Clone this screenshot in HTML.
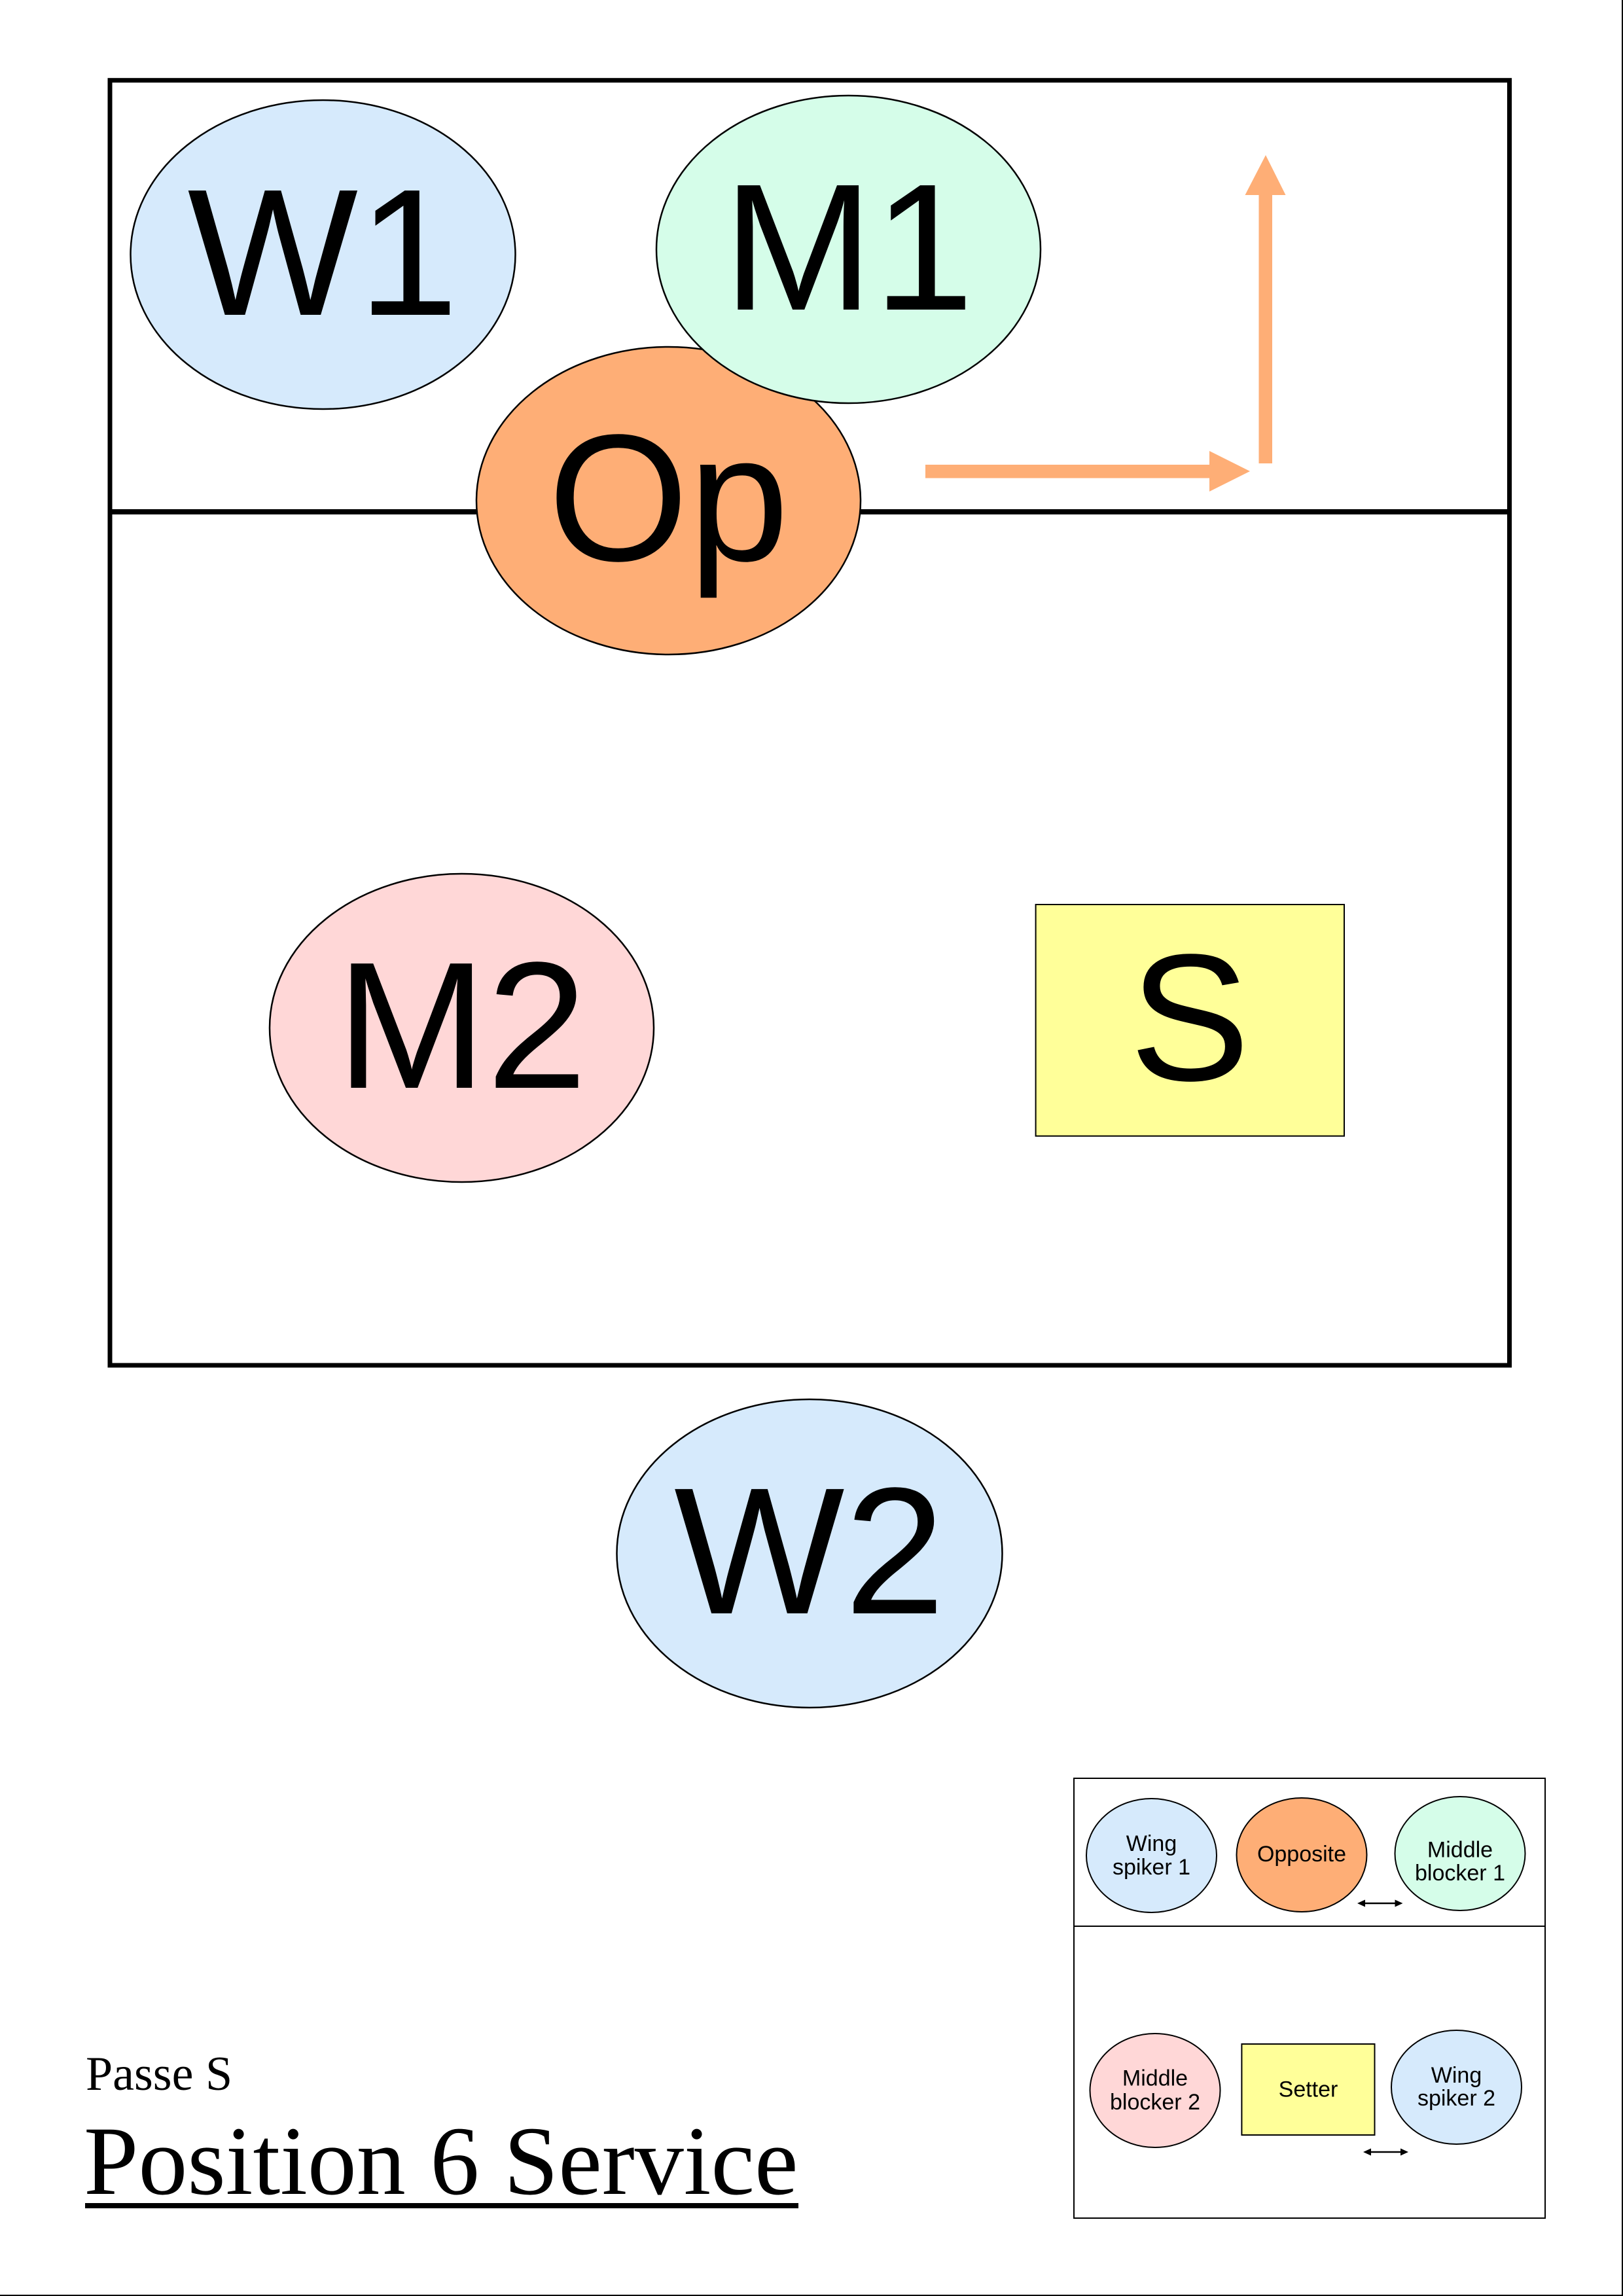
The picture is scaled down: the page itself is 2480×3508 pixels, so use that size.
<!DOCTYPE html>
<html>
<head>
<meta charset="utf-8">
<style>
  html, body { margin: 0; padding: 0; background: #ffffff; }
  svg { display: block; }
</style>
</head>
<body>
<svg xmlns="http://www.w3.org/2000/svg" width="2480" height="3508" viewBox="0 0 2480 3508">
  <rect x="0" y="0" width="2480" height="3508" fill="#ffffff"/>
  <!-- page edge lines -->
  <rect x="2478" y="0" width="2" height="3508" fill="#000"/>
  <rect x="0" y="3506" width="2480" height="2" fill="#000"/>

  <!-- court -->
  <rect x="168" y="122.7" width="2138.5" height="1963.3" fill="none" stroke="#000" stroke-width="7"/>
  <line x1="168" y1="782" x2="2306.5" y2="782" stroke="#000" stroke-width="8"/>

  <g font-family="'Liberation Sans', Arial, sans-serif" font-size="276" text-anchor="middle" fill="#000">
    <!-- W1 -->
    <ellipse cx="493.5" cy="389" rx="294" ry="236" fill="#D6EAFC" stroke="#000" stroke-width="2.5"/>
    <text x="493.5" y="481">W1</text>
    <!-- Op -->
    <ellipse cx="1021.5" cy="765" rx="293.5" ry="235" fill="#FEAE76" stroke="#000" stroke-width="2.5"/>
    <text x="1021.5" y="856">Op</text>
    <!-- M1 -->
    <ellipse cx="1296.5" cy="381" rx="293.5" ry="235" fill="#D5FDE9" stroke="#000" stroke-width="2.5"/>
    <text x="1296.5" y="473">M1</text>
    <!-- M2 -->
    <ellipse cx="705.5" cy="1570.5" rx="293.5" ry="235.5" fill="#FFD7D7" stroke="#000" stroke-width="2.5"/>
    <text x="705.5" y="1662">M2</text>
    <!-- S -->
    <rect x="1582.6" y="1382" width="471.4" height="353.7" fill="#FFFF99" stroke="#000" stroke-width="2"/>
    <text x="1818" y="1650">S</text>
    <!-- W2 -->
    <ellipse cx="1237" cy="2373.5" rx="294.5" ry="235.5" fill="#D6EAFC" stroke="#000" stroke-width="2.5"/>
    <text x="1237" y="2465">W2</text>
  </g>

  <!-- orange arrows -->
  <polygon points="1414,710 1848,710 1848,689 1910,720 1848,751 1848,730.5 1414,730.5" fill="#FEAE76"/>
  <polygon points="1923.5,708 1923.5,298 1902.5,298 1934,237 1964.5,298 1944,298 1944,708" fill="#FEAE76"/>

  <!-- legend -->
  <rect x="1641" y="2717" width="720" height="672" fill="none" stroke="#000" stroke-width="2"/>
  <line x1="1641" y1="2943" x2="2361" y2="2943" stroke="#000" stroke-width="2"/>

  <g font-family="'Liberation Sans', Arial, sans-serif" font-size="34" text-anchor="middle" fill="#000">
    <ellipse cx="1759.5" cy="2835" rx="99.5" ry="87" fill="#D6EAFC" stroke="#000" stroke-width="2"/>
    <text x="1759.5" y="2828">Wing</text>
    <text x="1759.5" y="2864">spiker 1</text>

    <ellipse cx="1989" cy="2834" rx="99.5" ry="87" fill="#FEAE76" stroke="#000" stroke-width="2"/>
    <text x="1989" y="2844">Opposite</text>

    <ellipse cx="2231" cy="2832" rx="99.5" ry="87" fill="#D5FDE9" stroke="#000" stroke-width="2"/>
    <text x="2231" y="2837.5">Middle</text>
    <text x="2231" y="2873">blocker 1</text>

    <ellipse cx="1765" cy="3194" rx="99.5" ry="87" fill="#FFD7D7" stroke="#000" stroke-width="2"/>
    <text x="1765" y="3186.5">Middle</text>
    <text x="1765" y="3223">blocker 2</text>

    <rect x="1897.4" y="3123" width="203.1" height="139" fill="#FFFF99" stroke="#000" stroke-width="2"/>
    <text x="1999" y="3203.5">Setter</text>

    <ellipse cx="2225.5" cy="3189" rx="99.5" ry="87" fill="#D6EAFC" stroke="#000" stroke-width="2"/>
    <text x="2225.5" y="3182">Wing</text>
    <text x="2225.5" y="3217">spiker 2</text>
  </g>

  <!-- double arrows -->
  <line x1="2080" y1="2908" x2="2137" y2="2908" stroke="#000" stroke-width="2.5"/>
  <polygon points="2074,2908 2086,2902.5 2086,2913.5" fill="#000"/>
  <polygon points="2143.5,2908 2131.5,2902.5 2131.5,2913.5" fill="#000"/>

  <line x1="2089" y1="3288" x2="2146" y2="3288" stroke="#000" stroke-width="2.5"/>
  <polygon points="2083,3288 2095,3282.5 2095,3293.5" fill="#000"/>
  <polygon points="2152,3288 2140,3282.5 2140,3293.5" fill="#000"/>

  <!-- titles -->
  <text x="131" y="3193" font-family="'Liberation Serif', 'Times New Roman', serif" font-size="74" fill="#000">Passe S</text>
  <text x="128" y="3352" font-family="'Liberation Serif', 'Times New Roman', serif" font-size="150" fill="#000">Position 6 Service</text>
  <rect x="130" y="3366" width="1090" height="8" fill="#000"/>
</svg>
</body>
</html>
